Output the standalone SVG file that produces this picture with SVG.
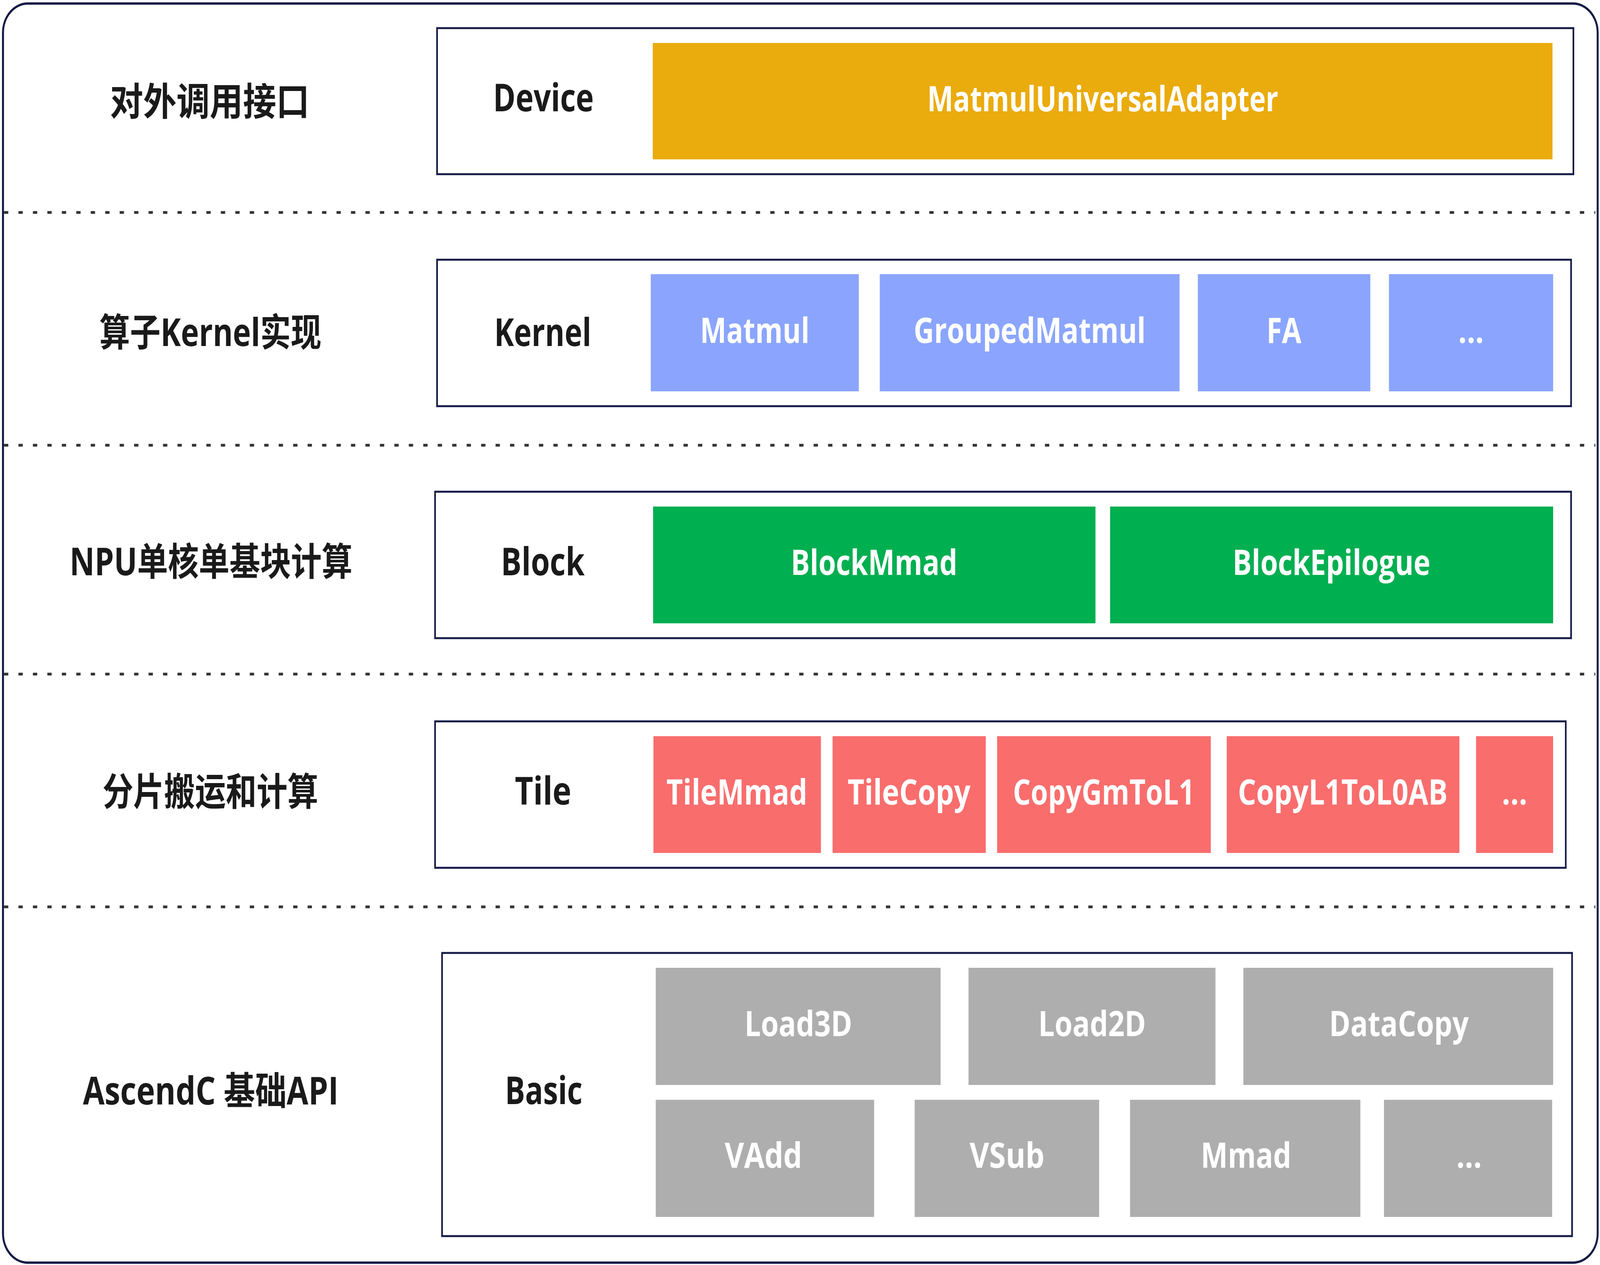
<svg xmlns="http://www.w3.org/2000/svg" width="4814" height="3239" viewBox="0 0 4814 3239" preserveAspectRatio="none" style="width:100vw;height:100vh;display:block">
<style>
.frame{fill:#fff;stroke:#141a46;stroke-width:6}
.box{fill:#fff;stroke:#141a46;stroke-width:5}
.sep{stroke:#333;stroke-width:7;stroke-dasharray:13 30.5;fill:none}
text{font-family:"Open Sans","Noto Sans CJK SC",sans-serif;font-weight:700;text-anchor:middle}
.lbl{fill:#1a1a1a;font-size:98px}
.in{fill:#fff;font-size:90px}
.or{fill:#eaab0c}
.bl{fill:#8ba5fe}
.gr{fill:#00af50}
.rd{fill:#f96d6d}
.gy{fill:#aeaeae}
</style>
<rect class="frame" x="9" y="9" width="4798" height="3224" rx="75" ry="75"/>
<g id="separators">
<line class="sep" x1="12" y1="544" x2="4800" y2="544"/>
<line class="sep" x1="12" y1="1140" x2="4800" y2="1140"/>
<line class="sep" x1="12" y1="1726" x2="4800" y2="1726"/>
<line class="sep" x1="12" y1="2322" x2="4800" y2="2322"/>
</g>
<g id="layer-labels">
<text class="lbl" x="631" y="295" textLength="600" lengthAdjust="spacingAndGlyphs">对外调用接口</text>
<text class="lbl" x="633" y="886" textLength="668" lengthAdjust="spacingAndGlyphs">算子Kernel实现</text>
<text class="lbl" x="635" y="1473" textLength="851" lengthAdjust="spacingAndGlyphs">NPU单核单基块计算</text>
<text class="lbl" x="633" y="2062" textLength="649" lengthAdjust="spacingAndGlyphs">分片搬运和计算</text>
<text class="lbl" x="634" y="2828" textLength="769" lengthAdjust="spacingAndGlyphs">AscendC 基础API</text>
</g>
<g id="device">
<rect class="box" x="1315" y="72" width="3419" height="374"/>
<text class="lbl" x="1635" y="285" textLength="303" lengthAdjust="spacingAndGlyphs">Device</text>
<g id="MatmulUniversalAdapter"><rect class="or" x="1964" y="110" width="2707" height="298"/><text class="in" x="3318" y="285" textLength="1056" lengthAdjust="spacingAndGlyphs">MatmulUniversalAdapter</text></g>
</g>
<g id="kernel">
<rect class="box" x="1315" y="665" width="3412" height="375"/>
<text class="lbl" x="1633" y="886" textLength="292" lengthAdjust="spacingAndGlyphs">Kernel</text>
<g id="Matmul"><rect class="bl" x="1958" y="702" width="626" height="300"/><text class="in" x="2271" y="878" textLength="329" lengthAdjust="spacingAndGlyphs">Matmul</text></g>
<g id="GroupedMatmul"><rect class="bl" x="2647" y="702" width="902" height="300"/><text class="in" x="3098" y="878" textLength="698" lengthAdjust="spacingAndGlyphs">GroupedMatmul</text></g>
<g id="FA"><rect class="bl" x="3604" y="702" width="519" height="300"/><text class="in" x="3863" y="878" textLength="105" lengthAdjust="spacingAndGlyphs">FA</text></g>
<g id="kernel-more"><rect class="bl" x="4179" y="702" width="494" height="300"/><text class="in" x="4426" y="878">...</text></g>
</g>
<g id="block">
<rect class="box" x="1309" y="1259" width="3418" height="375"/>
<text class="lbl" x="1633" y="1473" textLength="252" lengthAdjust="spacingAndGlyphs">Block</text>
<g id="BlockMmad"><rect class="gr" x="1965" y="1297" width="1331" height="299"/><text class="in" x="2630" y="1472" textLength="501" lengthAdjust="spacingAndGlyphs">BlockMmad</text></g>
<g id="BlockEpilogue"><rect class="gr" x="3340" y="1297" width="1333" height="299"/><text class="in" x="4006" y="1472" textLength="595" lengthAdjust="spacingAndGlyphs">BlockEpilogue</text></g>
</g>
<g id="tile">
<rect class="box" x="1309" y="1847" width="3402" height="375"/>
<text class="lbl" x="1634" y="2060" textLength="170" lengthAdjust="spacingAndGlyphs">Tile</text>
<g id="TileMmad"><rect class="rd" x="1966" y="1885" width="504" height="299"/><text class="in" x="2217" y="2060" textLength="424" lengthAdjust="spacingAndGlyphs">TileMmad</text></g>
<g id="TileCopy"><rect class="rd" x="2505" y="1885" width="461" height="299"/><text class="in" x="2735" y="2060" textLength="370" lengthAdjust="spacingAndGlyphs">TileCopy</text></g>
<g id="CopyGmToL1"><rect class="rd" x="3000" y="1885" width="643" height="299"/><text class="in" x="3321" y="2060" textLength="547" lengthAdjust="spacingAndGlyphs">CopyGmToL1</text></g>
<g id="CopyL1ToL0AB"><rect class="rd" x="3691" y="1885" width="700" height="299"/><text class="in" x="4040" y="2060" textLength="631" lengthAdjust="spacingAndGlyphs">CopyL1ToL0AB</text></g>
<g id="tile-more"><rect class="rd" x="4441" y="1885" width="232" height="299"/><text class="in" x="4557" y="2060">...</text></g>
</g>
<g id="basic">
<rect class="box" x="1330" y="2440" width="3400" height="725"/>
<text class="lbl" x="1636" y="2827" textLength="233" lengthAdjust="spacingAndGlyphs">Basic</text>
<g id="Load3D"><rect class="gy" x="1973" y="2478" width="857" height="300"/><text class="in" x="2402" y="2653" textLength="324" lengthAdjust="spacingAndGlyphs">Load3D</text></g>
<g id="Load2D"><rect class="gy" x="2914" y="2478" width="743" height="300"/><text class="in" x="3286" y="2653" textLength="324" lengthAdjust="spacingAndGlyphs">Load2D</text></g>
<g id="DataCopy"><rect class="gy" x="3741" y="2478" width="932" height="300"/><text class="in" x="4209" y="2653" textLength="420" lengthAdjust="spacingAndGlyphs">DataCopy</text></g>
<g id="VAdd"><rect class="gy" x="1973" y="2816" width="657" height="300"/><text class="in" x="2297" y="2990" textLength="233" lengthAdjust="spacingAndGlyphs">VAdd</text></g>
<g id="VSub"><rect class="gy" x="2752" y="2816" width="555" height="300"/><text class="in" x="3030" y="2990" textLength="225" lengthAdjust="spacingAndGlyphs">VSub</text></g>
<g id="Mmad"><rect class="gy" x="3400" y="2816" width="693" height="300"/><text class="in" x="3749" y="2990" textLength="272" lengthAdjust="spacingAndGlyphs">Mmad</text></g>
<g id="basic-more"><rect class="gy" x="4164" y="2816" width="506" height="300"/><text class="in" x="4420" y="2990">...</text></g>
</g>
</svg>
